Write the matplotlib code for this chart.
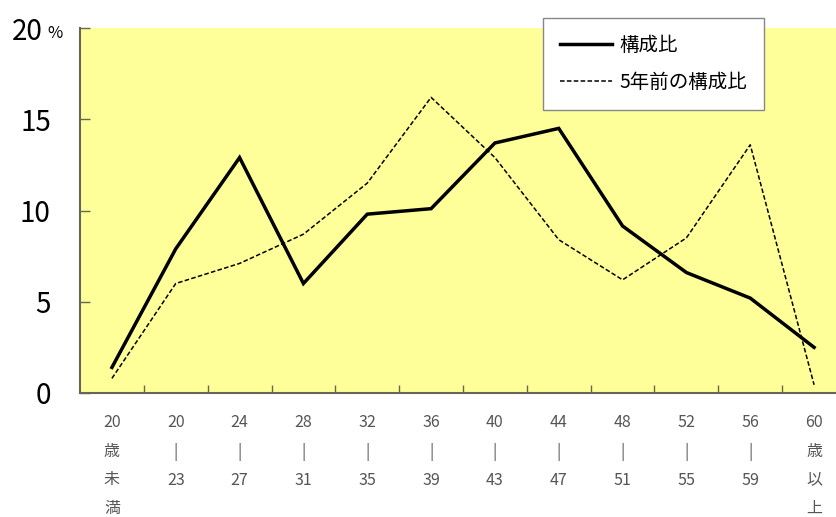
import matplotlib
matplotlib.use("Agg")
import matplotlib.pyplot as plt
import matplotlib.transforms as mtransforms
import numpy as np

plt.rcParams['font.family'] = ['Noto Sans CJK JP', 'DejaVu Sans']

# age groups (vertical labels)
categories = ["20\n歳\n未\n満", "20\n|\n23", "24\n|\n27", "28\n|\n31", "32\n|\n35",
              "36\n|\n39", "40\n|\n43", "44\n|\n47", "48\n|\n51", "52\n|\n55",
              "56\n|\n59", "60\n歳\n以\n上"]
ratio_now = [1.4, 7.9, 12.9, 6.0, 9.8, 10.1, 13.7, 14.5, 9.15, 6.6, 5.2, 2.5]
ratio_5y = [0.8, 6.0, 7.1, 8.7, 11.5, 16.2, 12.9, 8.4, 6.2, 8.5, 13.6, 0.45]
yticks = [0, 5, 10, 15, 20]

fig = plt.figure(figsize=(8.37, 5.17), dpi=100)
# axes runs off the right edge a little, like the original
ax = fig.add_axes([80/837, 1 - 393/517, 766/837, 365/517])
ax.set_facecolor('#FFFF99')

x = np.arange(len(categories))
ax.plot(x, ratio_now, color='black', lw=2.5, label='構成比', solid_joinstyle='miter')
ax.plot(x, ratio_5y, color='black', lw=1.1, ls=(0, (3, 1.5)), label='5年前の構成比')

ax.set_xlim(-0.5, len(categories) - 0.5)
ax.set_ylim(0, 20)

# ticks between the categories, pointing in
ax.set_xticks(np.arange(0.5, len(categories) - 1, 1.0))
ax.set_xticklabels([])
ax.tick_params(axis='x', direction='in', length=6, width=1, color='#666655')
ax.set_xticks(x, minor=True)
ax.set_xticklabels(categories, minor=True, fontsize=11.5, color='#555555', linespacing=1.9,
                   va='top')
ax.tick_params(axis='x', which='minor', length=0, pad=15)

ax.set_yticks(yticks)
ax.set_yticklabels([str(v) for v in yticks], fontsize=20)
ax.tick_params(axis='y', direction='in', length=7, width=1, color='#666655', pad=21)
# the top label sits a bit left to make room for the small %
top = ax.get_yticklabels()[-1]
top.set_transform(top.get_transform() + mtransforms.ScaledTranslation(-6/72, 0, fig.dpi_scale_trans))
ax.annotate('%', xy=(0, 20), xycoords=('axes fraction', 'data'), xytext=(-23.5, -4),
            textcoords='offset points', fontsize=12, va='center', ha='left')

for s in ['top', 'right']:
    ax.spines[s].set_visible(False)
for s in ['left', 'bottom']:
    ax.spines[s].set_color('#666655')
    ax.spines[s].set_linewidth(1.5)

leg = fig.legend(loc='upper left', bbox_to_anchor=(543/837, 1 - 18/517), borderaxespad=0,
                 fontsize=14, handlelength=2.7, handletextpad=0.4, labelspacing=0.85,
                 borderpad=0.85, fancybox=False, framealpha=1, edgecolor='#888888')
leg.get_frame().set_linewidth(1)

fig.savefig('out.png', dpi=100)
